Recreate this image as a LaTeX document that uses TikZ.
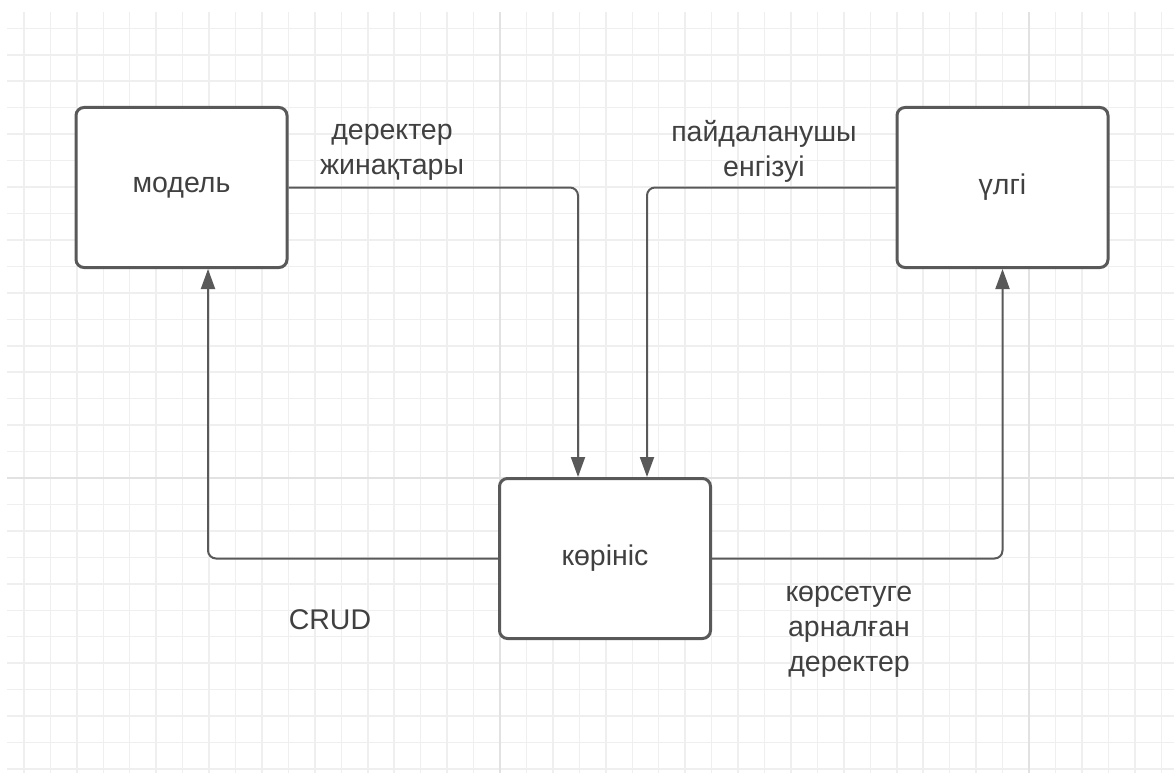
\documentclass[tikz,border=0pt]{standalone}
\usepackage{fontspec}
\setmainfont{Liberation Sans}
\usetikzlibrary{arrows.meta}
\definecolor{gridminor}{HTML}{EFEFEF}
\definecolor{gridmajor}{HTML}{E2E2E2}
\definecolor{stroke}{HTML}{595959}
\definecolor{txt}{HTML}{404040}
\tikzset{
  box/.style={draw=stroke, line width=3pt, rounded corners=8pt, fill=white,
    minimum width=211pt, minimum height=160pt, inner sep=0pt,
    font=\fontsize{28.5}{34}\selectfont, text=txt},
  lbl/.style={font=\fontsize{28.5}{35}\selectfont, text=txt, align=center, inner sep=0pt},
  conn/.style={draw=stroke, line width=2pt, rounded corners=8pt,
    -{Triangle[length=20pt,width=14pt]}},
}
\begin{document}
\begin{tikzpicture}[x=1pt,y=-1pt]
\useasboundingbox (0,0) rectangle (1174,773);
\fill[white] (0,0) rectangle (1174,773);
% grid
\foreach \k in {-18,...,25} {
  \draw[gridminor, line width=1.5pt] ({500+\k*26.45},12) -- ({500+\k*26.45},773);
}
\foreach \k in {-17,...,11} {
  \draw[gridminor, line width=1.5pt] (7,{478+\k*26.45}) -- (1174,{478+\k*26.45});
}
\draw[gridmajor, line width=2pt] (500,12) -- (500,773);
\draw[gridmajor, line width=2pt] (1029,12) -- (1029,773);
\draw[gridmajor, line width=2pt] (7,478) -- (1174,478);

% boxes
\node[box] (model) at (181.5,187.5) {модель};
\node[box] (ulgi) at (1002.5,187.5) {үлгі};
\node[box] (view) at (605,558.5) {көрініс};

% connectors
\draw[conn] (model.east) -| ([xshift=-27pt]view.north);
\draw[conn] (ulgi.west) -| ([xshift=42pt]view.north);
\draw[conn] (view.west) -| ([xshift=26.5pt]model.south);
\draw[conn] (view.east) -| (ulgi.south);

% labels
\node[lbl] (l1) at (392,152) {деректер\\жинақтары};
\node[lbl] (l2) at (764,151) {пайдаланушы\\енгізуі};
\node[lbl] (l3) at (330,620) {CRUD};
\node[lbl] (l4) at (849,632) {көрсетуге\\арналған\\деректер};
\end{tikzpicture}
\end{document}
